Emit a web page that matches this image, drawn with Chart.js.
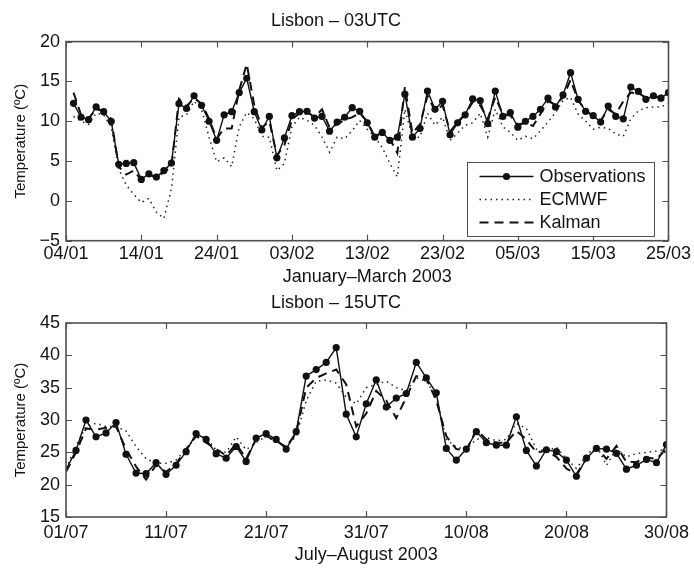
<!DOCTYPE html>
<html>
<head>
<meta charset="utf-8">
<title>Lisbon temperatures 2003</title>
<script src="https://cdn.jsdelivr.net/npm/chart.js@4.4.0/dist/chart.umd.min.js"></script>
<style>
  body { margin: 0; background: #fff; }
  #wrap { position: relative; width: 694px; height: 570px; }
  canvas { position: absolute; left: 0; }
  #winter { top: 0; }
  #summer { top: 292px; }
</style>
</head>
<body>
<div id="wrap">
  <canvas id="winter" width="694" height="292"></canvas>
  <canvas id="summer" width="694" height="278"></canvas>
</div>
<script>
// 03UTC, first value is 05/01 (axis starts at 04/01)
const winterTicks = ['04/01', '14/01', '24/01', '03/02', '13/02', '23/02', '05/03', '15/03', '25/03'];
const winterObs = [
  12.25, 10.5, 10.2, 11.8, 11.2, 10.0, 4.6, 4.7, 4.8, 2.7,
  3.4, 3.0, 3.8, 4.75, 12.2, 11.6, 13.2, 12.0, 10.0, 7.6,
  10.8, 11.2, 13.6, 15.4, 11.2, 8.9, 10.6, 5.4, 7.9, 10.7,
  11.2, 11.25, 10.4, 10.6, 8.75, 9.9, 10.5, 11.7, 11.25, 9.8,
  8.0, 8.6, 7.6, 8.0, 13.4, 8.0, 9.1, 13.8, 11.5, 12.5,
  8.3, 9.8, 10.8, 12.8, 12.6, 9.7, 13.8, 10.6, 11.1, 9.25,
  10.0, 10.6, 11.5, 12.9, 11.8, 13.3, 16.1, 12.75, 11.25, 10.7,
  9.9, 11.9, 10.6, 10.3, 14.3, 13.75, 12.75, 13.2, 12.9, 13.6
];
const winterEcmwf = [
  10.6, 10.0, 9.6, 11.0, 10.8, 9.3, 4.0, 2.0, 0.8, -0.2,
  0.3, -1.4, -2.2, 1.5, 10.5, 10.8, 12.5, 11.5, 8.0, 4.9,
  5.4, 4.3, 9.3, 11.1, 10.3, 8.1, 8.0, 3.8, 4.7, 9.3,
  10.5, 10.1, 9.5, 8.0, 6.1, 8.0, 7.8, 8.8, 10.1, 9.0,
  8.0, 6.7, 4.7, 3.0, 11.5, 8.0, 8.0, 11.0, 9.5, 10.5,
  7.6, 8.5, 9.5, 9.8, 11.0, 8.0, 11.5, 9.3, 8.6, 7.6,
  8.1, 7.8, 8.8, 9.9, 11.1, 12.6, 13.0, 10.9, 10.0, 9.0,
  9.25, 9.1, 8.4, 8.1, 10.3, 11.3, 11.7, 11.8, 11.8, 12.2
];
const winterKalman = [
  13.6, 10.8, 10.4, 11.5, 11.3, 10.3, 4.3, 3.3, 3.8, 2.6,
  3.3, 2.9, 3.6, 4.3, 12.8, 11.9, 12.9, 12.2, 10.3, 7.8,
  9.1, 9.1, 13.9, 17.2, 12.0, 9.2, 10.0, 5.7, 7.0, 10.2,
  11.0, 11.2, 10.5, 11.5, 9.2, 9.6, 10.2, 10.5, 11.0, 10.0,
  8.0, 8.7, 7.8, 6.0, 14.3, 8.5, 9.6, 13.2, 11.3, 12.0,
  8.7, 9.9, 10.9, 12.4, 12.0, 10.3, 13.0, 10.9, 10.7, 9.6,
  9.8, 9.4, 10.9, 12.5, 12.1, 13.0, 15.2, 12.6, 11.4, 10.6,
  10.1, 11.5, 10.9, 12.5, 13.6, 13.5, 13.0, 12.9, 13.2, 13.4
];

// 15UTC, 01/07 .. 30/08
const summerTicks = ['01/07', '11/07', '21/07', '31/07', '10/08', '20/08', '30/08'];
const summerObs = [
  22.3, 25.3, 30.0, 27.4, 28.0, 29.6, 24.7, 21.8, 21.7, 23.4,
  21.6, 23.0, 25.1, 27.9, 27.0, 24.8, 24.1, 25.9, 23.6, 27.2,
  27.9, 27.0, 25.5, 28.2, 36.8, 37.8, 38.9, 41.2, 30.9, 27.4,
  32.5, 36.2, 32.0, 33.4, 34.1, 38.9, 36.5, 34.2, 25.6, 23.8,
  25.5, 28.2, 26.5, 26.1, 26.1, 30.5, 25.3, 22.9, 25.4, 25.1,
  23.8, 21.3, 24.1, 25.6, 25.5, 24.85, 22.4, 23.0, 23.9, 23.4,
  26.2
];
const summerEcmwf = [
  22.5, 26.0, 29.0, 29.5, 29.0, 29.0, 28.3, 25.9, 24.0, 23.3,
  23.3, 23.8, 25.5, 27.5, 27.3, 25.4, 25.0, 27.4, 25.4, 26.5,
  27.5, 26.5, 25.9, 27.5, 33.0, 36.0, 36.2, 35.7, 33.5, 32.5,
  35.0, 35.5, 36.0, 35.0, 34.5, 36.5, 36.0, 33.5, 27.0, 25.8,
  25.5, 27.0, 27.3, 26.8, 27.0, 29.5, 28.7, 25.5, 25.2, 25.8,
  24.0, 22.5, 24.5, 26.1, 23.0, 25.5, 24.3, 24.8, 25.0, 25.2,
  25.5
];
const summerKalman = [
  22.0, 25.0, 28.7, 28.5, 28.8, 29.0, 25.5, 22.8, 20.8, 23.0,
  22.0, 23.2, 25.5, 27.5, 26.5, 25.5, 24.5, 26.3, 24.0, 27.0,
  27.5, 26.8, 25.8, 28.0, 35.0, 36.5, 37.2, 37.8, 35.5, 29.0,
  31.0, 34.5, 33.0, 30.3, 33.5, 36.8, 36.5, 33.0, 27.5, 25.5,
  25.3, 28.5, 27.0, 26.5, 26.5, 28.3, 27.0, 25.0, 25.2, 24.3,
  22.5, 21.6, 24.0, 25.8, 24.0, 26.0, 23.5, 23.5, 24.2, 24.0,
  25.5
];

const FONT = '"Liberation Sans", Arial, Helvetica, sans-serif';
const INK = '#141414';
const FRAME = '#505050';

// axes box with inward ticks on all four sides
const frame = {
  id: 'frame',
  afterDatasetsDraw(chart) {
    const { ctx, chartArea: a, scales: { x, y } } = chart;
    ctx.save();
    ctx.strokeStyle = FRAME;
    ctx.lineWidth = 1.2;
    ctx.beginPath();
    x.ticks.forEach(t => {
      const px = Math.round(x.getPixelForValue(t.value)) + 0.5;
      ctx.moveTo(px, a.bottom); ctx.lineTo(px, a.bottom - 6);
      ctx.moveTo(px, a.top); ctx.lineTo(px, a.top + 6);
    });
    y.ticks.forEach(t => {
      const py = Math.round(y.getPixelForValue(t.value)) + 0.5;
      ctx.moveTo(a.left, py); ctx.lineTo(a.left + 6, py);
      ctx.moveTo(a.right, py); ctx.lineTo(a.right - 6, py);
    });
    ctx.stroke();
    ctx.lineWidth = 1.6;
    ctx.strokeRect(a.left, a.top, a.right - a.left, a.bottom - a.top);
    ctx.restore();
  }
};

// boxed legend in the lower right corner of the plot
const boxLegend = {
  id: 'boxLegend',
  afterDraw(chart) {
    const { ctx, chartArea: a } = chart;
    const w = 187, h = 74;
    const left = Math.round(a.right - 14 - w) + 0.5;
    const top = Math.round(a.bottom - 5 - h) + 0.5;
    ctx.save();
    ctx.fillStyle = '#fff';
    ctx.fillRect(left, top, w, h);
    ctx.strokeStyle = FRAME;
    ctx.lineWidth = 1;
    ctx.strokeRect(left, top, w, h);
    ctx.font = '18px ' + FONT;
    ctx.textBaseline = 'middle';
    chart.data.datasets.forEach((ds, i) => {
      const cy = top + 14 + i * 23;
      ctx.strokeStyle = ds.borderColor;
      ctx.lineWidth = ds.borderWidth;
      ctx.setLineDash(ds.borderDash || []);
      ctx.beginPath();
      ctx.moveTo(left + 12, cy);
      ctx.lineTo(left + 66, cy);
      ctx.stroke();
      ctx.setLineDash([]);
      if (ds.markerSize) {
        ctx.fillStyle = ds.pointBackgroundColor;
        ctx.beginPath();
        ctx.arc(left + 39, cy, ds.markerSize, 0, Math.PI * 2);
        ctx.fill();
      }
      ctx.fillStyle = INK;
      ctx.fillText(ds.label, left + 72, cy + 1);
    });
    ctx.restore();
  }
};

function toPoints(values, firstDay) {
  return values.map((v, i) => ({ x: firstDay + i, y: v }));
}

function drawPanel(id, p) {
  const tickFont = { family: FONT, size: 18 };
  return new Chart(document.getElementById(id), {
    type: 'line',
    data: {
      datasets: [
        {
          label: 'Observations',
          data: toPoints(p.obs, p.firstDay),
          borderColor: '#111',
          borderWidth: 1.4,
          markerSize: 3.6,
          // no marker sitting on the left frame
          pointRadius: c => (c.parsed && c.parsed.x <= 0 ? 0 : 3.6),
          pointBackgroundColor: '#111',
          pointBorderWidth: 0,
        },
        {
          label: 'ECMWF',
          data: toPoints(p.ecmwf, p.firstDay),
          borderColor: '#222',
          borderWidth: 1.5,
          borderDash: [1.5, 4],
          pointRadius: 0,
        },
        {
          label: 'Kalman',
          data: toPoints(p.kalman, p.firstDay),
          borderColor: '#111',
          borderWidth: 2,
          borderDash: [9, 6],
          pointRadius: 0,
        },
      ],
    },
    options: {
      responsive: false,
      animation: false,
      events: [],
      elements: { line: { tension: 0 } },
      layout: { padding: { left: 0, right: 22, top: 0, bottom: 0 } },
      plugins: {
        legend: { display: false },
        tooltip: { enabled: false },
        title: {
          display: true,
          text: p.title,
          color: INK,
          font: { family: FONT, size: 18, weight: 'normal' },
          padding: p.titlePad,
        },
      },
      scales: {
        x: {
          type: 'linear',
          min: 0,
          max: p.lastDay,
          grid: { display: false, drawTicks: false },
          border: { display: false },
          ticks: {
            stepSize: 10,
            autoSkip: false,
            maxRotation: 0,
            padding: p.xTickPad,
            color: INK,
            font: tickFont,
            callback: v => p.ticks[v / 10],
          },
          title: {
            display: true,
            text: p.xlabel,
            color: INK,
            font: { family: FONT, size: 18 },
            padding: { top: 0, bottom: 4 },
          },
          afterFit: s => { s.height = p.xHeight; },
        },
        y: {
          min: p.yMin,
          max: p.yMax,
          grid: { display: false, drawTicks: false },
          border: { display: false },
          ticks: {
            stepSize: 5,
            padding: 6,
            color: INK,
            font: tickFont,
            callback: v => (v < 0 ? '\u2212' + Math.abs(v) : String(v)),
          },
          title: {
            display: true,
            text: 'Temperature (\u00baC)',
            color: INK,
            font: { family: FONT, size: 15 },
            padding: { top: 12, bottom: 0 },
          },
          afterFit: s => { s.width = 66; },
        },
      },
    },
    plugins: p.legend ? [frame, boxLegend] : [frame],
  });
}

drawPanel('winter', {
  title: 'Lisbon \u2013 03UTC',
  xlabel: 'January\u2013March 2003',
  ticks: winterTicks,
  obs: winterObs,
  ecmwf: winterEcmwf,
  kalman: winterKalman,
  firstDay: 1,
  lastDay: 80,
  yMin: -5,
  yMax: 20,
  titlePad: { top: 10, bottom: 10 },
  xTickPad: 3,
  xHeight: 51.3,
  legend: true,
});

drawPanel('summer', {
  title: 'Lisbon \u2013 15UTC',
  xlabel: 'July\u2013August 2003',
  ticks: summerTicks,
  obs: summerObs,
  ecmwf: summerEcmwf,
  kalman: summerKalman,
  firstDay: 0,
  lastDay: 60,
  yMin: 15,
  yMax: 45,
  titlePad: { top: 0, bottom: 9.4 },
  xTickPad: 5,
  xHeight: 53,
  legend: false,
});
</script>
</body>
</html>
